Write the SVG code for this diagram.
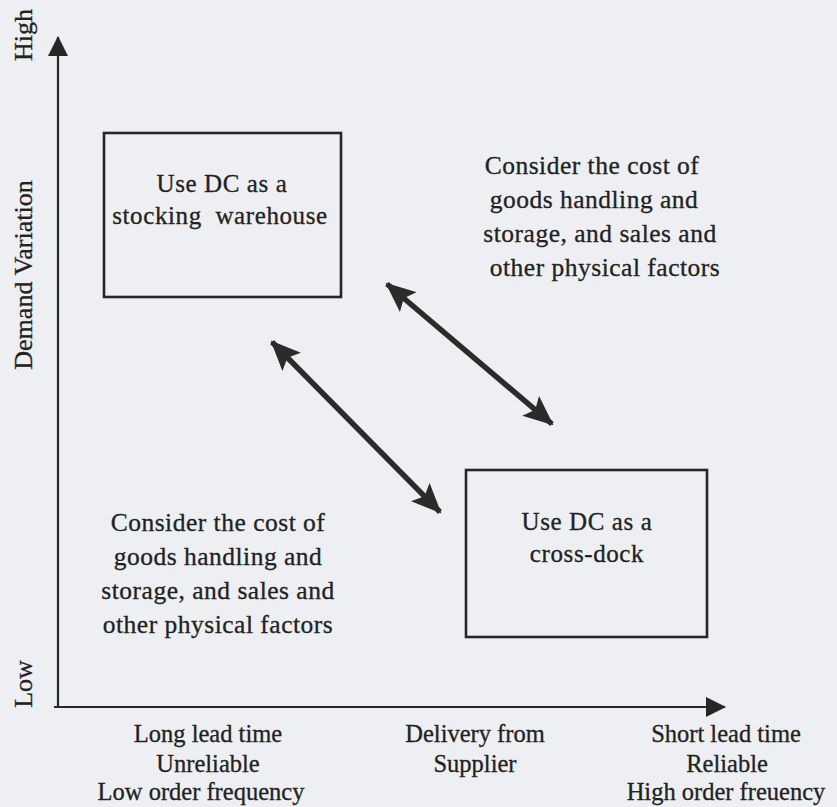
<svg xmlns="http://www.w3.org/2000/svg" width="837" height="807" viewBox="0 0 837 807">
  <style>
    .t { font-family: "Liberation Serif", "Times New Roman", serif; fill: #222; stroke: #222; stroke-width: 0.3; text-anchor: middle; }
    .box { font-size: 25px; letter-spacing: 0.6px; }
    .note { font-size: 25.5px; letter-spacing: 0.5px; }
    .lab { font-size: 24.5px; }
    .ax { font-size: 26px; }
    .frame { fill: none; stroke: #262626; stroke-width: 2.6; }
    .axis { stroke: #262626; stroke-width: 2.2; fill: none; }
    .dbl { stroke: #2b2b2b; stroke-width: 5.5; fill: none; }
  </style>
  <defs>
    <marker id="axhead" viewBox="0 0 20 20" refX="19" refY="10" markerWidth="20" markerHeight="20" markerUnits="userSpaceOnUse" orient="auto">
      <path d="M0,0 L20,10 L0,20 Z" fill="#262626"/>
    </marker>
    <marker id="bigEnd" viewBox="0 0 30 26" refX="28" refY="13" markerWidth="30" markerHeight="26" markerUnits="userSpaceOnUse" orient="auto">
      <path d="M0,0 L30,13 L0,26 L6,13 Z" fill="#2b2b2b"/>
    </marker>
    <marker id="bigStart" viewBox="0 0 30 26" refX="2" refY="13" markerWidth="30" markerHeight="26" markerUnits="userSpaceOnUse" orient="auto">
      <path d="M30,0 L0,13 L30,26 L24,13 Z" fill="#2b2b2b"/>
    </marker>
  </defs>
  <rect x="0" y="0" width="837" height="807" fill="#eeeff2"/>

  <g id="axes">
    <line class="axis" x1="58" y1="707" x2="58" y2="37" marker-end="url(#axhead)"/>
    <line class="axis" x1="54" y1="707" x2="725" y2="707" marker-end="url(#axhead)"/>
  </g>

  <g id="axis-labels">
    <text class="t ax" transform="translate(32,35) rotate(-90)">High</text>
    <text class="t ax" transform="translate(32,275) rotate(-90)">Demand Variation</text>
    <text class="t ax" transform="translate(32,684) rotate(-90)">Low</text>
  </g>

  <g id="node-stocking">
    <rect class="frame" x="104" y="133" width="237" height="164"/>
    <text class="t box" x="222" y="192">Use DC as a</text>
    <text class="t box" x="220" y="224">stocking&#160; warehouse</text>
  </g>

  <g id="node-crossdock">
    <rect class="frame" x="466" y="470" width="241" height="167"/>
    <text class="t box" x="587" y="530">Use DC as a</text>
    <text class="t box" x="587" y="562">cross-dock</text>
  </g>

  <g id="note-top">
    <text class="t note" x="592" y="174">Consider the cost of</text>
    <text class="t note" x="594" y="208">goods handling and</text>
    <text class="t note" x="600" y="242">storage, and sales and</text>
    <text class="t note" x="605" y="276">other physical factors</text>
  </g>

  <g id="note-bottom">
    <text class="t note" x="218" y="531">Consider the cost of</text>
    <text class="t note" x="218" y="565">goods handling and</text>
    <text class="t note" x="218" y="599">storage, and sales and</text>
    <text class="t note" x="218" y="633">other physical factors</text>
  </g>

  <g id="connectors">
    <line class="dbl" x1="387" y1="284" x2="552" y2="424" marker-start="url(#bigStart)" marker-end="url(#bigEnd)"/>
    <line class="dbl" x1="272" y1="342" x2="440" y2="512" marker-start="url(#bigStart)" marker-end="url(#bigEnd)"/>
  </g>

  <g id="x-labels">
    <text class="t lab" x="208" y="742">Long lead time</text>
    <text class="t lab" x="208" y="772">Unreliable</text>
    <text class="t lab" x="201" y="800">Low order frequency</text>
    <text class="t lab" x="475" y="742">Delivery from</text>
    <text class="t lab" x="475" y="772">Supplier</text>
    <text class="t lab" x="726" y="742">Short lead time</text>
    <text class="t lab" x="727" y="772">Reliable</text>
    <text class="t lab" x="726" y="800">High order freuency</text>
  </g>
</svg>
